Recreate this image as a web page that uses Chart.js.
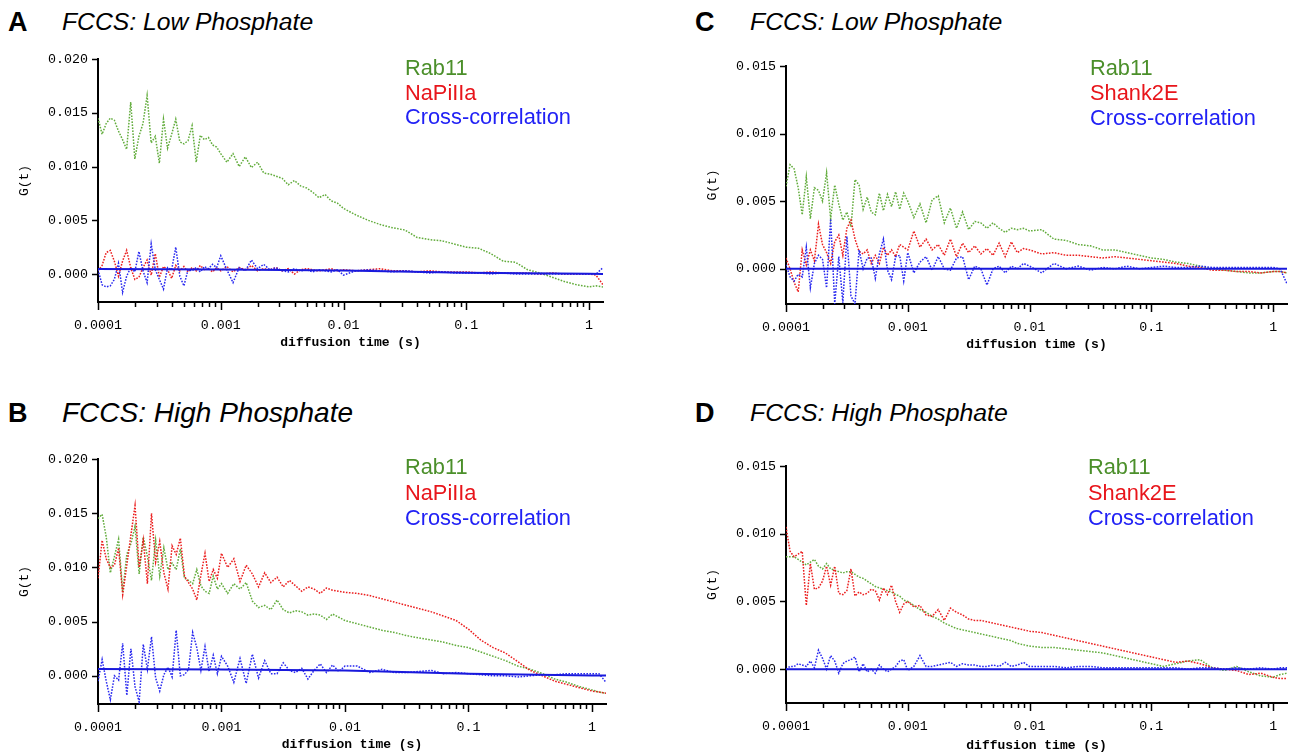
<!DOCTYPE html>
<html>
<head>
<meta charset="utf-8">
<title>FCCS Rab11 cross-correlation</title>
<script src="https://cdn.jsdelivr.net/npm/chart.js@4.4.1/dist/chart.umd.min.js"></script>
<style>
  body { margin: 0; background: #fff; width: 1293px; height: 755px; position: relative; overflow: hidden;
         font-family: "Liberation Sans", Arial, sans-serif; }
  canvas { position: absolute; }
  .letter { position: absolute; font-weight: bold; font-size: 27px; line-height: 1; color: #000; }
  .title { position: absolute; font-style: italic; line-height: 1; color: #000; white-space: nowrap; }
  .legend { position: absolute; font-size: 21.8px; white-space: nowrap; }
  .rab { color: #4b8f2a; }
  .partner { color: #e8151b; }
  .cross { color: #2121f5; }
</style>
</head>
<body>

<div class="letter" style="left:8px;top:9px">A</div>
<div class="title" style="left:62px;top:10px;font-size:24.7px">FCCS: Low Phosphate</div>
<div class="letter" style="left:695px;top:9px">C</div>
<div class="title" style="left:750px;top:10px;font-size:24.8px">FCCS: Low Phosphate</div>
<div class="letter" style="left:8px;top:400px">B</div>
<div class="title" style="left:62px;top:399px;font-size:28px">FCCS: High Phosphate</div>
<div class="letter" style="left:695px;top:400px">D</div>
<div class="title" style="left:750px;top:401px;font-size:24.8px">FCCS: High Phosphate</div>

<canvas id="chartA" width="640" height="320" style="left:0;top:40px"></canvas>
<canvas id="chartB" width="640" height="325" style="left:0;top:430px"></canvas>
<canvas id="chartC" width="613" height="320" style="left:680px;top:40px"></canvas>
<canvas id="chartD" width="613" height="325" style="left:680px;top:430px"></canvas>

<div class="legend" style="left:405px;top:56px;line-height:24.5px">
  <div class="rab">Rab11</div><div class="partner">NaPiIIa</div><div class="cross">Cross-correlation</div>
</div>
<div class="legend" style="left:1090px;top:55px;line-height:25px">
  <div class="rab">Rab11</div><div class="partner">Shank2E</div><div class="cross">Cross-correlation</div>
</div>
<div class="legend" style="left:405px;top:454px;line-height:25.5px">
  <div class="rab">Rab11</div><div class="partner">NaPiIIa</div><div class="cross">Cross-correlation</div>
</div>
<div class="legend" style="left:1088px;top:454px;line-height:25.5px">
  <div class="rab">Rab11</div><div class="partner">Shank2E</div><div class="cross">Cross-correlation</div>
</div>

<script>
// lag times (s), shared by all the measured curves
var lagTimes = [
  0.0001, 0.000108, 0.0001166, 0.0001259, 0.0001359, 0.0001468, 0.0001585, 0.0001711, 0.0001848, 0.0001995,
  0.0002154, 0.0002326, 0.0002512, 0.0002712, 0.0002929, 0.0003162, 0.0003415, 0.0003687, 0.0003981, 0.0004299,
  0.0004642, 0.0005012, 0.0005412, 0.0005843, 0.000631, 0.0006813, 0.0007356, 0.0007943, 0.0008577, 0.0009261,
  0.001, 0.001122, 0.001259, 0.001413, 0.001585, 0.001778, 0.001995, 0.002239, 0.002512, 0.002818,
  0.003162, 0.003548, 0.003981, 0.004467, 0.005012, 0.005623, 0.00631, 0.007079, 0.007943, 0.008913,
  0.01, 0.01259, 0.01585, 0.01995, 0.02512, 0.03162, 0.03981, 0.05012, 0.0631, 0.07943,
  0.1, 0.1259, 0.1585, 0.1995, 0.2512, 0.3162, 0.3981, 0.5012, 0.631, 0.7943,
  1.0, 1.14, 1.3
];
// times for the fitted cross-correlation line
var fitTimes = [0.0001, 0.001, 0.01, 0.1, 1, 1.3];

// A - low phosphate, Rab11 / NaPiIIa
var rab11A = [
  0.0145, 0.0130, 0.0140, 0.0145, 0.0143, 0.0133, 0.0125, 0.0116, 0.0160, 0.0107,
  0.0128, 0.0140, 0.0166, 0.0122, 0.0128, 0.0103, 0.0144, 0.0117, 0.0130, 0.0144,
  0.0123, 0.0121, 0.0124, 0.0138, 0.0104, 0.0129, 0.0125, 0.0127, 0.0120, 0.0118,
  0.0112, 0.0104, 0.0112, 0.0100, 0.0109, 0.0099, 0.0104, 0.0094, 0.0093, 0.0091,
  0.0089, 0.0083, 0.0087, 0.0082, 0.0080, 0.0076, 0.0071, 0.0074, 0.0068, 0.0066,
  0.0061, 0.0055, 0.0050, 0.0046, 0.0043, 0.0041, 0.0034, 0.0032, 0.0031, 0.0028,
  0.0025, 0.0024, 0.0019, 0.0012, 0.0011, 0.0004, 0.0001, -0.0003, -0.0007, -0.0010,
  -0.0012, -0.0011, -0.0012
];
var napiA = [
  0.0003, 0.0008, 0.0020, 0.0022, 0.0012, -0.0002, 0.0012, 0.0022, 0.0006, -0.0005,
  -0.0003, 0.0006, 0.0013, -0.0001, 0.0019, -0.0003, 0.0007, 0.0004, -0.0004, 0.0008,
  0.0003, 0.0007, 0.0002, 0.0006, 0.0003, 0.0008, 0.0004, 0.0005, 0.0002, 0.0006,
  0.0003, 0.0007, 0.0002, 0.0006, 0.0004, 0.0008, 0.0003, 0.0005, 0.0004, 0.0006,
  0.0003, 0.0005, 0.0000, 0.0004, 0.0005, 0.0004, 0.0003, 0.0004, 0.0005, 0.0003,
  0.0004, 0.0003, 0.0004, 0.0005, 0.0003, 0.0003, 0.0002, 0.0003, 0.0002, 0.0002,
  0.0002, 0.0001, 0.0002, 0.0001, 0.0001, 0.0001, 0.0000, 0.0001, 0.0000, 0.0000,
  0.0000, -0.0001, -0.0010
];
var crossA = [
  0.0004, -0.0010, -0.0012, -0.0011, -0.0005, 0.0010, -0.0017, -0.0002, 0.0006, 0.0002,
  0.0021, 0.0003, -0.0008, 0.0028, 0.0004, -0.0005, -0.0014, 0.0006, 0.0004, 0.0025,
  -0.0002, -0.0011, 0.0004, 0.0003, 0.0006, 0.0002, 0.0007, 0.0005, 0.0009, 0.0006,
  0.0017, 0.0004, -0.0008, 0.0006, 0.0003, 0.0013, 0.0005, 0.0009, 0.0004, 0.0006,
  0.0003, 0.0002, 0.0005, 0.0003, 0.0004, 0.0002, 0.0004, 0.0003, 0.0002, 0.0004,
  -0.0001, 0.0003, 0.0004, 0.0003, 0.0002, 0.0003, 0.0002, 0.0001, 0.0002, 0.0001,
  0.0001, 0.0001, 0.0000, 0.0001, 0.0000, 0.0000, 0.0000, 0.0000, 0.0000, 0.0000,
  0.0000, 0.0000, 0.0006
];
var fitA = [0.00046, 0.00042, 0.00033, 0.00012, 0.00002, 0.00001];

// B - high phosphate, Rab11 / NaPiIIa
var rab11B = [
  0.0145, 0.0149, 0.0128, 0.0095, 0.0110, 0.0126, 0.0077, 0.0112, 0.0122, 0.0138,
  0.0094, 0.0128, 0.0110, 0.0088, 0.0125, 0.0092, 0.0118, 0.0098, 0.0104, 0.0098,
  0.0117, 0.0090, 0.0088, 0.0085, 0.0098, 0.0083, 0.0078, 0.0076, 0.0092, 0.0080,
  0.0085, 0.0076, 0.0085, 0.0080, 0.0086, 0.0069, 0.0063, 0.0065, 0.0061, 0.0070,
  0.0061, 0.0058, 0.0060, 0.0059, 0.0056, 0.0057, 0.0056, 0.0052, 0.0057, 0.0054,
  0.0051, 0.0048, 0.0045, 0.0042, 0.0040, 0.0037, 0.0035, 0.0033, 0.0031, 0.0028,
  0.0026, 0.0022, 0.0018, 0.0014, 0.0009, 0.0006, 0.0002, -0.0003, -0.0006, -0.0010,
  -0.0013, -0.0015, -0.0016
];
var napiB = [
  0.0090, 0.0125, 0.0108, 0.0100, 0.0102, 0.0118, 0.0075, 0.0102, 0.0130, 0.0157,
  0.0100, 0.0125, 0.0085, 0.0150, 0.0105, 0.0124, 0.0095, 0.0080, 0.0120, 0.0112,
  0.0127, 0.0092, 0.0086, 0.0080, 0.0070, 0.0093, 0.0113, 0.0087, 0.0098, 0.0090,
  0.0113, 0.0100, 0.0108, 0.0087, 0.0102, 0.0094, 0.0082, 0.0095, 0.0086, 0.0091,
  0.0082, 0.0088, 0.0083, 0.0078, 0.0082, 0.0080, 0.0076, 0.0081, 0.0079, 0.0078,
  0.0077, 0.0076, 0.0074, 0.0071, 0.0068, 0.0065, 0.0062, 0.0059, 0.0055, 0.0051,
  0.0043, 0.0033, 0.0026, 0.0021, 0.0013, 0.0005, 0.0000, -0.0005, -0.0008, -0.0011,
  -0.0014, -0.0015, -0.0016
];
var crossB = [
  -0.0005, 0.0015, -0.0005, -0.0022, 0.0000, -0.0004, 0.0030, -0.0018, 0.0025, -0.0010,
  -0.0024, 0.0029, 0.0006, 0.0036, -0.0002, -0.0014, 0.0001, 0.0008, -0.0001, 0.0042,
  0.0000, 0.0001, 0.0006, 0.0040, 0.0026, 0.0005, 0.0027, 0.0004, 0.0019, 0.0002,
  0.0018, 0.0009, -0.0006, 0.0016, -0.0007, 0.0020, -0.0002, 0.0014, 0.0002, 0.0002,
  0.0012, 0.0005, 0.0003, 0.0007, -0.0003, 0.0005, 0.0011, 0.0003, 0.0010, 0.0004,
  0.0009, 0.0009, 0.0003, 0.0006, 0.0003, 0.0003, 0.0004, 0.0005, 0.0002, 0.0003,
  0.0002, 0.0001, 0.0000, 0.0000, -0.0001, 0.0000, 0.0001, 0.0001, 0.0002, 0.0002,
  0.0002, 0.0002, -0.0006
];
var fitB = [0.00062, 0.00058, 0.00048, 0.00020, 0.00004, 0.00003];

// C - low phosphate, Rab11 / Shank2E
var rab11C = [
  0.0061, 0.0077, 0.0074, 0.0060, 0.0040, 0.0068, 0.0037, 0.0060, 0.0058, 0.0050,
  0.0071, 0.0037, 0.0062, 0.0048, 0.0036, 0.0042, 0.0031, 0.0066, 0.0062, 0.0044,
  0.0053, 0.0042, 0.0040, 0.0056, 0.0043, 0.0055, 0.0046, 0.0057, 0.0044, 0.0056,
  0.0050, 0.0038, 0.0048, 0.0034, 0.0051, 0.0054, 0.0034, 0.0045, 0.0030, 0.0042,
  0.0029, 0.0035, 0.0034, 0.0030, 0.0034, 0.0030, 0.0027, 0.0030, 0.0029, 0.0030,
  0.0028, 0.0029, 0.0022, 0.0021, 0.0018, 0.0017, 0.0014, 0.0014, 0.0012, 0.0010,
  0.0008, 0.0007, 0.0005, 0.0004, 0.0002, 0.0000, -0.0001, -0.0002, -0.0003, -0.0003,
  -0.0002, -0.0002, -0.0003
];
var shankC = [
  0.0008, 0.0000, -0.0010, -0.0017, 0.0014, 0.0003, 0.0014, 0.0006, 0.0033, 0.0018,
  0.0012, 0.0004, 0.0020, 0.0025, 0.0010, 0.0030, 0.0036, 0.0022, 0.0013, 0.0011,
  0.0014, 0.0004, 0.0010, 0.0004, 0.0016, 0.0010, 0.0014, 0.0009, 0.0018, 0.0016,
  0.0014, 0.0028, 0.0016, 0.0022, 0.0014, 0.0018, 0.0010, 0.0022, 0.0009, 0.0019,
  0.0012, 0.0017, 0.0011, 0.0015, 0.0010, 0.0019, 0.0009, 0.0020, 0.0012, 0.0015,
  0.0014, 0.0011, 0.0012, 0.0010, 0.0010, 0.0009, 0.0008, 0.0009, 0.0008, 0.0007,
  0.0006, 0.0005, 0.0004, 0.0002, 0.0001, -0.0001, -0.0001, -0.0002, -0.0002, -0.0003,
  -0.0002, -0.0002, -0.0003
];
var crossC = [
  0.0003, -0.0006, -0.0009, -0.0004, -0.0006, 0.0016, -0.0014, 0.0004, 0.0010, 0.0007,
  -0.0014, 0.0037, -0.0026, 0.0009, -0.0025, 0.0024, -0.0020, -0.0026, 0.0014, 0.0000,
  0.0008, 0.0008, -0.0007, 0.0011, 0.0022, -0.0001, -0.0008, 0.0009, 0.0010, -0.0009,
  0.0012, -0.0003, 0.0005, 0.0009, -0.0001, 0.0009, 0.0000, -0.0001, 0.0008, 0.0009,
  -0.0008, 0.0002, 0.0000, -0.0012, 0.0000, 0.0002, -0.0003, 0.0002, 0.0000, 0.0004,
  0.0002, -0.0003, 0.0004, 0.0000, 0.0002, -0.0001, 0.0001, 0.0000, 0.0002, 0.0000,
  0.0001, 0.0002, 0.0001, 0.0001, 0.0002, 0.0001, 0.0001, 0.0001, 0.0001, 0.0001,
  0.0001, 0.0000, -0.0011
];
var fitC = [0, 0, 0, 0, 0, 0];

// D - high phosphate, Rab11 / Shank2E
var rab11D = [
  0.0083, 0.0083, 0.0083, 0.0081, 0.0079, 0.0077, 0.0079, 0.0081, 0.0076, 0.0074,
  0.0078, 0.0074, 0.0073, 0.0072, 0.0071, 0.0072, 0.0072, 0.0070, 0.0068, 0.0067,
  0.0065, 0.0063, 0.0061, 0.0060, 0.0059, 0.0058, 0.0057, 0.0055, 0.0054, 0.0051,
  0.0050, 0.0047, 0.0044, 0.0042, 0.0039, 0.0037, 0.0034, 0.0032, 0.0030, 0.0029,
  0.0028, 0.0027, 0.0026, 0.0025, 0.0024, 0.0023, 0.0022, 0.0021, 0.0019, 0.0018,
  0.0017, 0.0016, 0.0016, 0.0015, 0.0014, 0.0013, 0.0012, 0.0010, 0.0008, 0.0006,
  0.0004, 0.0002, 0.0004, 0.0006, 0.0007, 0.0001, -0.0001, 0.0002, -0.0002, -0.0005,
  -0.0006, -0.0004, -0.0003
];
var shankD = [
  0.0105, 0.0087, 0.0083, 0.0085, 0.0087, 0.0047, 0.0078, 0.0059, 0.0060, 0.0065,
  0.0076, 0.0062, 0.0076, 0.0056, 0.0055, 0.0058, 0.0074, 0.0054, 0.0057, 0.0055,
  0.0056, 0.0059, 0.0058, 0.0051, 0.0060, 0.0055, 0.0062, 0.0050, 0.0042, 0.0048,
  0.0050, 0.0046, 0.0047, 0.0040, 0.0039, 0.0044, 0.0036, 0.0045, 0.0042, 0.0040,
  0.0037, 0.0036, 0.0036, 0.0035, 0.0034, 0.0033, 0.0032, 0.0031, 0.0030, 0.0029,
  0.0028, 0.0027, 0.0025, 0.0023, 0.0021, 0.0019, 0.0017, 0.0015, 0.0013, 0.0011,
  0.0009, 0.0007, 0.0005, 0.0006, 0.0004, 0.0001, 0.0000, -0.0001, -0.0004, -0.0003,
  -0.0006, -0.0007, -0.0007
];
var crossD = [
  0.0000, 0.0002, 0.0002, 0.0004, 0.0003, 0.0002, 0.0006, 0.0001, 0.0014, 0.0008,
  0.0000, 0.0010, 0.0006, -0.0003, 0.0004, 0.0006, 0.0007, 0.0009, -0.0002, 0.0004,
  -0.0002, 0.0000, -0.0003, 0.0003, 0.0000, -0.0002, 0.0000, 0.0002, 0.0006, 0.0007,
  -0.0001, 0.0002, 0.0010, 0.0002, 0.0002, 0.0003, 0.0004, 0.0005, 0.0002, 0.0004,
  0.0003, 0.0003, 0.0002, 0.0002, 0.0003, 0.0002, 0.0005, 0.0002, 0.0003, 0.0005,
  0.0002, 0.0002, 0.0002, 0.0001, 0.0002, 0.0002, 0.0001, 0.0001, 0.0001, 0.0001,
  0.0001, 0.0001, 0.0001, 0.0000, 0.0001, 0.0001, 0.0000, 0.0001, 0.0000, 0.0001,
  0.0000, 0.0001, 0.0001
];
var fitD = [0, 0, 0, 0, 0, 0];

var greenLine = 'rgb(98,172,60)';
var redLine = 'rgb(235,30,30)';
var blueLine = 'rgb(40,40,240)';
var fitLine = 'rgb(25,25,220)';
var monoFont = '"Liberation Mono", "DejaVu Sans Mono", monospace';

function toPoints(times, values) {
  return times.map(function (t, i) { return { x: t, y: values[i] }; });
}

function isDecade(v) {
  var l = Math.log10(v);
  return Math.abs(l - Math.round(l)) < 1e-6;
}

// little tick marks on both axes, long ones at each decade
var tickMarks = {
  id: 'tickMarks',
  afterDraw: function (chart) {
    var ctx = chart.ctx;
    var xs = chart.scales.x, ys = chart.scales.y;
    ctx.save();
    ctx.strokeStyle = '#000';
    ctx.lineWidth = 1.5;
    xs.ticks.forEach(function (t) {
      var px = Math.round(xs.getPixelForValue(t.value)) + 0.5;
      var len = isDecade(t.value) ? 8 : 5;
      ctx.beginPath();
      ctx.moveTo(px, xs.top);
      ctx.lineTo(px, xs.top + len);
      ctx.stroke();
    });
    ys.ticks.forEach(function (t) {
      var py = Math.round(ys.getPixelForValue(t.value)) + 0.5;
      ctx.beginPath();
      ctx.moveTo(ys.right, py);
      ctx.lineTo(ys.right - 6, py);
      ctx.stroke();
    });
    ctx.restore();
  }
};

function makePanel(id, rab, partner, cross, fit, layout) {
  var ctx = document.getElementById(id);
  var dotted = { borderWidth: 1.5, borderDash: [1.6, 1.4] };
  return new Chart(ctx, {
    type: 'line',
    data: {
      datasets: [
        { label: 'fit', data: toPoints(fitTimes, fit), borderColor: fitLine, borderWidth: 2 },
        Object.assign({ label: 'Cross-correlation', data: toPoints(lagTimes, cross), borderColor: blueLine }, dotted),
        Object.assign({ label: layout.partnerName, data: toPoints(lagTimes, partner), borderColor: redLine }, dotted),
        Object.assign({ label: 'Rab11', data: toPoints(lagTimes, rab), borderColor: greenLine }, dotted)
      ]
    },
    options: {
      responsive: false,
      animation: false,
      layout: { padding: { top: layout.padTop, right: layout.padRight, left: 0, bottom: 0 } },
      elements: { point: { radius: 0 }, line: { tension: 0 } },
      plugins: { legend: { display: false }, tooltip: { enabled: false } },
      scales: {
        x: {
          type: 'logarithmic',
          min: 0.0001,
          max: 1.3,
          grid: { display: false, drawTicks: false },
          border: { display: true, color: '#000', width: 2 },
          afterBuildTicks: function (scale) {
            var list = [];
            for (var e = -4; e <= 0; e++) {
              for (var m = 1; m <= 9; m++) {
                var v = m * Math.pow(10, e);
                if (v <= scale.max) list.push({ value: v });
              }
            }
            scale.ticks = list;
          },
          ticks: {
            autoSkip: false, maxRotation: 0, padding: 15, color: '#000',
            font: { family: monoFont, size: 13.3 },
            callback: function (v) { return isDecade(v) ? String(Number(v.toPrecision(1))) : ''; }
          },
          title: {
            display: true, text: 'diffusion time (s)', color: '#000',
            font: { family: monoFont, size: 13, weight: 'bold' },
            padding: { top: 0, bottom: layout.xTitlePad }
          },
          afterFit: function (s) { s.height = layout.xHeight; }
        },
        y: {
          min: layout.yMin,
          max: layout.yMax,
          grid: { display: false, drawTicks: false },
          border: { display: true, color: '#000', width: 2 },
          ticks: {
            stepSize: 0.005, includeBounds: false, padding: 10, color: '#000',
            font: { family: monoFont, size: 13.3 },
            callback: function (v) { return Math.abs(v) < 1e-9 ? '0.000' : v.toFixed(3); }
          },
          title: {
            display: true, text: 'G(t)', color: '#000',
            font: { family: monoFont, size: 13 },
            padding: { top: layout.yTitlePad, bottom: 0 }
          },
          afterFit: function (s) { s.width = layout.yWidth; }
        }
      }
    },
    plugins: [tickMarks]
  });
}

makePanel('chartA', rab11A, napiA, crossA, fitA,
  { partnerName: 'NaPiIIa', yMin: -0.0026, yMax: 0.020, padTop: 19, padRight: 37, yWidth: 98, xHeight: 58, xTitlePad: 9, yTitlePad: 17 });
makePanel('chartB', rab11B, napiB, crossB, fitB,
  { partnerName: 'NaPiIIa', yMin: -0.0026, yMax: 0.020, padTop: 29, padRight: 34, yWidth: 98, xHeight: 51, xTitlePad: 2, yTitlePad: 17 });
makePanel('chartC', rab11C, shankC, crossC, fitC,
  { partnerName: 'Shank2E', yMin: -0.0026, yMax: 0.015, padTop: 26, padRight: 6, yWidth: 106, xHeight: 56, xTitlePad: 7, yTitlePad: 25 });
makePanel('chartD', rab11D, shankD, crossD, fitD,
  { partnerName: 'Shank2E', yMin: -0.0025, yMax: 0.015, padTop: 36, padRight: 6, yWidth: 106, xHeight: 52, xTitlePad: 1, yTitlePad: 25 });
</script>
</body>
</html>
